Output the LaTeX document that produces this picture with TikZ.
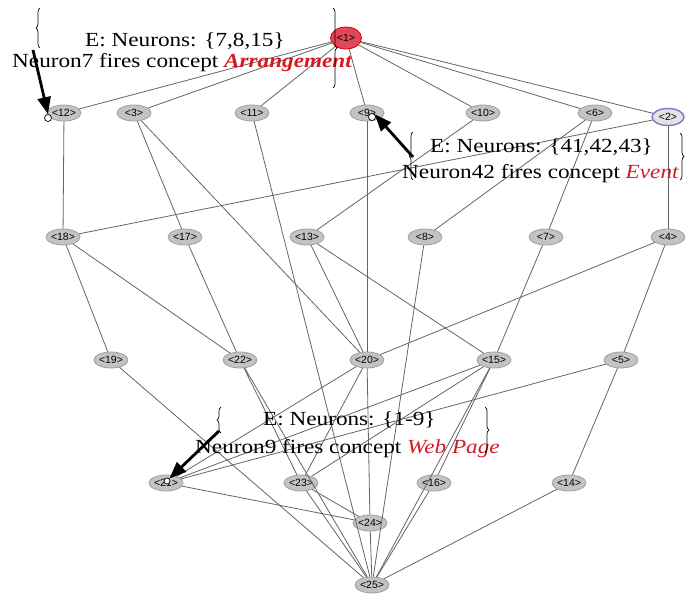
\documentclass[tikz,border=0pt]{standalone}
\usepackage{fontspec}
\setmainfont{Liberation Serif}
\newfontfamily\labfont{Liberation Sans}
\usetikzlibrary{shapes.geometric,arrows.meta,decorations.pathreplacing}
\definecolor{edgegray}{RGB}{100,100,100}
\definecolor{nodefill}{RGB}{195,195,195}
\definecolor{nodeline}{RGB}{160,160,160}
\definecolor{annred}{RGB}{215,25,35}
\definecolor{topred}{RGB}{225,70,90}
\definecolor{blueline}{RGB}{120,120,210}
\begin{document}
\begin{tikzpicture}[x=1pt,y=-1pt,
  cnode/.style={ellipse,draw=nodeline,fill=nodefill,line width=0.8pt,minimum width=34pt,minimum height=16pt,inner sep=0pt,font=\labfont\fontsize{10.5}{10.5}\selectfont},
  edge/.style={draw=edgegray,line width=0.8pt},
  bigarrow/.style={-{Triangle[length=17pt,width=13pt]},line width=2.8pt,draw=black},
  ann/.style={anchor=base west,inner sep=0pt,font=\fontsize{20}{24}\selectfont},
  brc/.style={decorate,decoration={brace,amplitude=4pt},line width=0.7pt,draw=black},
  tipcirc/.style={circle,draw=black,line width=0.7pt,fill=white,inner sep=0pt,minimum size=7pt}
]
\useasboundingbox (0,0) rectangle (689,597);

% nodes
\node[cnode,fill=topred,draw=red!85!black,minimum width=31pt,minimum height=22pt] (n1) at (346,38) {<1>};
\node[cnode] (n12) at (64,113) {<12>};
\node[cnode] (n3)  at (134,113) {<3>};
\node[cnode] (n11) at (252,113) {<11>};
\node[cnode] (n9)  at (367,113) {<9>};
\node[cnode] (n10) at (483,113) {<10>};
\node[cnode] (n6)  at (595,113) {<6>};
\node[cnode,fill=gray!22,draw=blueline,line width=1.4pt,minimum width=32pt,minimum height=17pt] (n2) at (668,117) {<2>};
\node[cnode] (n18) at (63,237) {<18>};
\node[cnode] (n17) at (185,237) {<17>};
\node[cnode] (n13) at (307,237) {<13>};
\node[cnode] (n8)  at (425,237) {<8>};
\node[cnode] (n7)  at (546,237) {<7>};
\node[cnode] (n4)  at (668,237) {<4>};
\node[cnode] (n19) at (111,360) {<19>};
\node[cnode] (n22) at (240,360) {<22>};
\node[cnode] (n20) at (367,360) {<20>};
\node[cnode] (n15) at (494,360) {<15>};
\node[cnode] (n5)  at (621,360) {<5>};
\node[cnode] (n21) at (166,483) {<21>};
\node[cnode] (n23) at (301,483) {<23>};
\node[cnode] (n16) at (434,483) {<16>};
\node[cnode] (n14) at (569,483) {<14>};
\node[cnode] (n24) at (370,523) {<24>};
\node[cnode] (n25) at (372,585) {<25>};

% edges
\foreach \a/\b in {n1/n12,n1/n3,n1/n11,n1/n9,n1/n10,n1/n6,n1/n2,
  n12/n18,n3/n17,n3/n20,n11/n25,n9/n20,n10/n13,n6/n8,n6/n7,n2/n18,n2/n4,
  n18/n19,n18/n22,n17/n22,n13/n20,n13/n15,n8/n25,n7/n15,n4/n20,n4/n5,
  n19/n25,n22/n23,n22/n25,n20/n21,n20/n23,n20/n24,n15/n21,n15/n23,n15/n16,n15/n25,
  n5/n21,n5/n14,n21/n24,n23/n24,n23/n25,n16/n25,n14/n25,n24/n25}
  \draw[edge] (\a) -- (\b);

% annotation 1
\node[ann] (t1a) at (85,46) {\scalebox{1.16}[1]{E: Neurons: \{7,8,15\}}};
\node[ann] (t1b) at (12,67) {\scalebox{1.16}[1]{Neuron7 fires concept \textcolor{annred}{\textbf{\textit{Arrangement}}}}};
\coordinate (b1lt) at (40,8);
\coordinate (b1lb) at (40,48);
\draw[brc] (b1lb) -- (b1lt);
\coordinate (b1rt) at (333,8);
\coordinate (b1rb) at (333,88);
\draw[brc] (b1rt) -- (b1rb);
\coordinate (a1s) at (33,50);
\node[tipcirc] (c1) at (48,118) {};
\draw[bigarrow] (a1s) -- (c1.north);

% annotation 2
\node[ann] (t2a) at (430,152) {\scalebox{1.16}[1]{E: Neurons: \{41,42,43\}}};
\node[ann] (t2b) at (402,178) {\scalebox{1.16}[1]{Neuron42 fires concept \textcolor{annred}{\textit{Event}}}};
\coordinate (b2lt) at (413,132);
\coordinate (b2lb) at (413,180);
\draw[brc] (b2lb) -- (b2lt);
\coordinate (b2rt) at (680,133);
\coordinate (b2rb) at (680,180);
\draw[brc] (b2rt) -- (b2rb);
\coordinate (a2s) at (413,157);
\node[tipcirc] (c2) at (372,117) {};
\draw[bigarrow] (a2s) -- (c2.north east);

% annotation 3
\node[ann] (t3a) at (263,425) {\scalebox{1.16}[1]{E: Neurons: \{1-9\}}};
\node[ann] (t3b) at (195,453) {\scalebox{1.16}[1]{Neuron9 fires concept \textcolor{annred}{\textit{Web Page}}}};
\coordinate (b3lt) at (221,407);
\coordinate (b3lb) at (221,433);
\draw[brc] (b3lb) -- (b3lt);
\coordinate (b3rt) at (485,407);
\coordinate (b3rb) at (485,453);
\draw[brc] (b3rt) -- (b3rb);
\coordinate (a3s) at (219,431);
\node[tipcirc,minimum size=6pt] (c3) at (167,481) {};
\draw[bigarrow] (a3s) -- (c3.north east);
\end{tikzpicture}
\end{document}
